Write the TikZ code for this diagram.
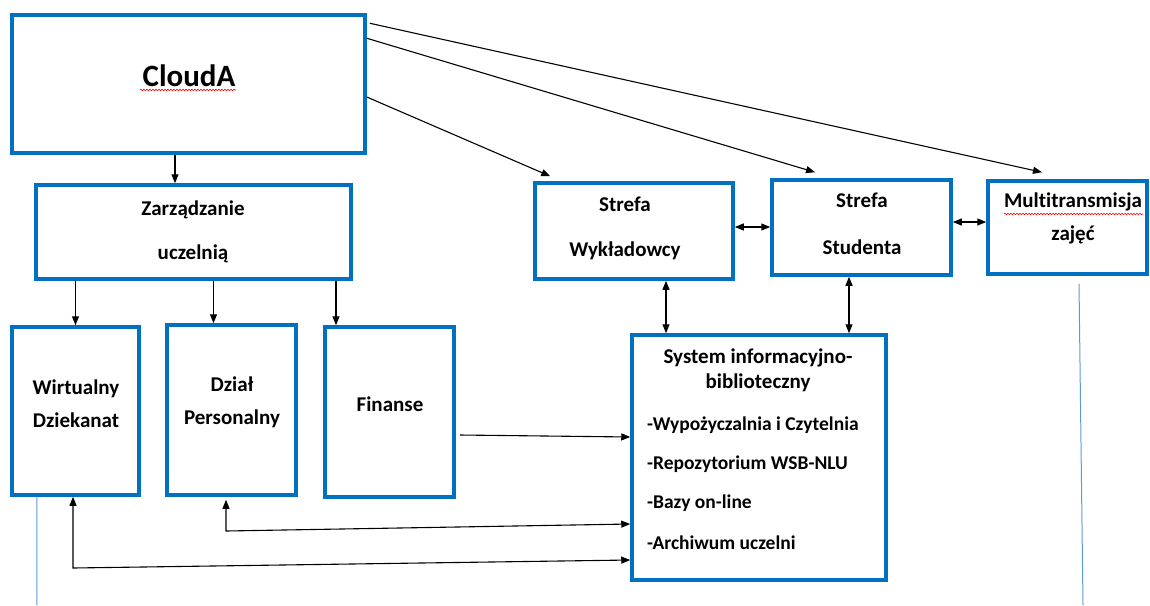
\documentclass[tikz,border=0pt]{standalone}
\usepackage{fontspec}
\setmainfont{Carlito}[Ligatures=NoCommon]
\usetikzlibrary{arrows.meta,decorations.pathmorphing}
\definecolor{boxblue}{RGB}{0,112,192}
\definecolor{thinblue}{RGB}{91,155,213}
\tikzset{
  box/.style={draw=boxblue,line width=3.5pt,fill=white,inner sep=0pt},
  txt/.style={font=\fontsize{21}{33}\selectfont\bfseries,align=center,inner sep=0pt},
  arr/.style={-{Triangle[length=9pt,width=7pt]},line width=1.1pt},
  darr/.style={{Triangle[length=9pt,width=7pt]}-{Triangle[length=9pt,width=7pt]},line width=1.1pt},
  squiggle/.style={red,line width=0.6pt,decorate,decoration={snake,amplitude=0.8pt,segment length=3pt}}
}
\begin{document}
\begin{tikzpicture}[x=1pt,y=-1pt]
  \useasboundingbox (0,0) rectangle (1150,605);
  % the boxes: name / centre / width / height
  \foreach \nm/\cx/\cy/\w/\h in {cloud/188.5/84/353/138,zarz/193.5/232/315/94,wirt/75.5/411/127/168,
      dzial/231.5/410/129/170,fin/389.5/412/129/170,wykl/634/231/198/96,stud/861.5/227.5/179/95,
      multi/1067.5/227.5/159/93,sys/759/457.5/254/245}{
    \node[box,minimum width=\w pt,minimum height=\h pt] (\nm) at (\cx,\cy) {};};
  % texts
  \node[txt,font=\fontsize{31}{36}\selectfont\bfseries] (cloudT) at (189,76) {CloudA};
  \node[txt] (zarzT) at (193,232) {Zarządzanie\\[11pt]uczelnią};
  \node[txt] (wirtT) at (76,404) {Wirtualny\\Dziekanat};
  \node[txt] (dzialT) at (232,402) {Dział\\Personalny};
  \node[txt] (finT) at (390,404) {Finanse};
  \node[txt] (wyklT) at (625,228) {Strefa\\[12pt]Wykładowcy};
  \node[txt] (studT) at (862,224) {Strefa\\[14pt]Studenta};
  \node[txt] (multiT) at (1073,218) {Multitransmisja\\zajęć};
  \node[txt,font=\fontsize{21}{25}\selectfont\bfseries] (sysT) at (758,370) {System informacyjno-\\biblioteczny};
  \foreach \it/\yy/\na in {-Wypożyczalnia i Czytelnia/425/A,-Repozytorium WSB-NLU/464/B,-Bazy on-line/503/C,-Archiwum uczelni/543/D}{
    \node[txt,font=\fontsize{19.5}{24}\selectfont\bfseries,anchor=west] (sys\na) at (647,\yy) {\it};};
  % spell-check marks
  \draw[squiggle] (140,90) -- (236,90);
  \draw[squiggle] (1004,214) -- (1143,214);
  % arrows down the tree
  \draw[arr] ([xshift=-13.5pt]cloud.south) -- ([xshift=-13.5pt]cloud.south |- zarz.north);
  \draw[arr] (wirt.north |- zarz.south) -- (wirt.north);
  \draw[arr] ([xshift=-18pt]dzial.north |- zarz.south) -- ([xshift=-18pt]dzial.north);
  \draw[arr] ([xshift=-53.5pt]fin.north |- zarz.south) -- ([xshift=-53.5pt]fin.north);
  \draw[arr] ([yshift=-13pt]cloud.east) -- ([xshift=17pt,yshift=5pt]wykl.north west);
  \draw[arr] ([yshift=-25pt]cloud.north east) -- ([xshift=-46.5pt,yshift=6pt]stud.north);
  \draw[arr] ([xshift=3pt,yshift=-10pt]cloud.north east) -- ([xshift=-25.5pt,yshift=7pt]multi.north);
  % both ways
  \draw[darr] ([yshift=4pt]wykl.east) -- ([yshift=0.5pt]stud.west);
  \draw[darr] ([yshift=5.5pt]stud.east) -- ([yshift=5.5pt]multi.west);
  \draw[darr] ([xshift=32pt]wykl.south) -- ([xshift=32pt]wykl.south |- sys.north);
  \draw[darr] ([xshift=-12.5pt]stud.south) -- ([xshift=-12.5pt]stud.south |- sys.north);
  % into the library system
  \draw[arr] ([xshift=4pt,yshift=-23pt]fin.east) -- ([yshift=20.5pt]sys.west);
  \coordinate (dzialC) at (226,531);
  \coordinate (wirtC) at (73,568);
  \draw[darr] ([xshift=-5.5pt,yshift=-3pt]dzial.south) -- (dzialC) -- ([yshift=-66.5pt]sys.west);
  \draw[darr] ([xshift=-2.5pt]wirt.south) -- (wirtC) -- ([yshift=-102.5pt]sys.west);
  % thin blue lines
  \coordinate (wirtEnd) at (37,605);
  \coordinate (multiEnd) at (1083,605);
  \draw[thinblue,line width=1pt] ([xshift=26.5pt]wirt.south west) -- (wirtEnd);
  \draw[thinblue,line width=1pt] ([xshift=11.5pt,yshift=-8pt]multi.south) -- (multiEnd);
\end{tikzpicture}
\end{document}
